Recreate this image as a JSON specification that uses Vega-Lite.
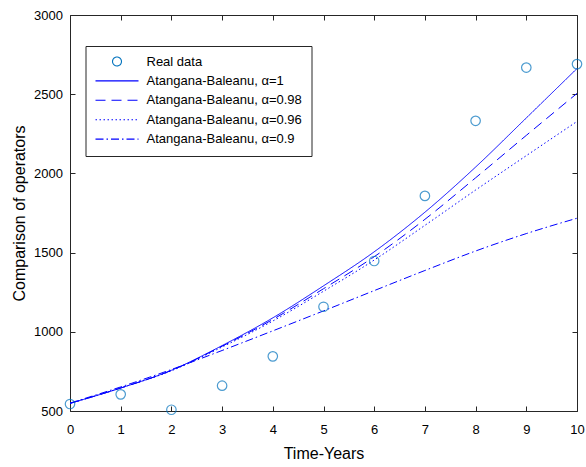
{
  "$schema": "https://vega.github.io/schema/vega-lite/v6.json",
  "autosize": {"type": "none"},
  "padding": {"left": 70, "top": 15, "right": 9, "bottom": 56},
  "width": 507,
  "height": 396,
  "background": "white",
  "config": {
    "view": {"stroke": null},
    "font": "Liberation Sans",
    "axis": {
      "grid": false,
      "domainColor": "#262626",
      "tickColor": "#262626",
      "labelColor": "#000000",
      "titleColor": "#000000",
      "labelFont": "Liberation Sans",
      "titleFont": "Liberation Sans",
      "labelFontSize": 13,
      "titleFontSize": 16,
      "titleFontWeight": "normal",
      "tickSize": -5,
      "labelFlush": false,
      "labelOverlap": false
    }
  },
  "datasets": {
    "lines": [
      {"t": 0, "v": 548, "s": "Atangana-Baleanu, α=1"},
      {"t": 1, "v": 645, "s": "Atangana-Baleanu, α=1"},
      {"t": 2, "v": 757, "s": "Atangana-Baleanu, α=1"},
      {"t": 3, "v": 913, "s": "Atangana-Baleanu, α=1"},
      {"t": 4, "v": 1088, "s": "Atangana-Baleanu, α=1"},
      {"t": 5, "v": 1290, "s": "Atangana-Baleanu, α=1"},
      {"t": 6, "v": 1505, "s": "Atangana-Baleanu, α=1"},
      {"t": 7, "v": 1755, "s": "Atangana-Baleanu, α=1"},
      {"t": 8, "v": 2040, "s": "Atangana-Baleanu, α=1"},
      {"t": 9, "v": 2350, "s": "Atangana-Baleanu, α=1"},
      {"t": 10, "v": 2662, "s": "Atangana-Baleanu, α=1"},
      {"t": 0, "v": 548, "s": "Atangana-Baleanu, α=0.98"},
      {"t": 1, "v": 645, "s": "Atangana-Baleanu, α=0.98"},
      {"t": 2, "v": 756, "s": "Atangana-Baleanu, α=0.98"},
      {"t": 3, "v": 909, "s": "Atangana-Baleanu, α=0.98"},
      {"t": 4, "v": 1078, "s": "Atangana-Baleanu, α=0.98"},
      {"t": 5, "v": 1272, "s": "Atangana-Baleanu, α=0.98"},
      {"t": 6, "v": 1474, "s": "Atangana-Baleanu, α=0.98"},
      {"t": 7, "v": 1710, "s": "Atangana-Baleanu, α=0.98"},
      {"t": 8, "v": 1972, "s": "Atangana-Baleanu, α=0.98"},
      {"t": 9, "v": 2240, "s": "Atangana-Baleanu, α=0.98"},
      {"t": 10, "v": 2505, "s": "Atangana-Baleanu, α=0.98"},
      {"t": 0, "v": 548, "s": "Atangana-Baleanu, α=0.96"},
      {"t": 1, "v": 646, "s": "Atangana-Baleanu, α=0.96"},
      {"t": 2, "v": 754, "s": "Atangana-Baleanu, α=0.96"},
      {"t": 3, "v": 904, "s": "Atangana-Baleanu, α=0.96"},
      {"t": 4, "v": 1068, "s": "Atangana-Baleanu, α=0.96"},
      {"t": 5, "v": 1256, "s": "Atangana-Baleanu, α=0.96"},
      {"t": 6, "v": 1453, "s": "Atangana-Baleanu, α=0.96"},
      {"t": 7, "v": 1672, "s": "Atangana-Baleanu, α=0.96"},
      {"t": 8, "v": 1895, "s": "Atangana-Baleanu, α=0.96"},
      {"t": 9, "v": 2112, "s": "Atangana-Baleanu, α=0.96"},
      {"t": 10, "v": 2328, "s": "Atangana-Baleanu, α=0.96"},
      {"t": 0, "v": 550, "s": "Atangana-Baleanu, α=0.9"},
      {"t": 1, "v": 652, "s": "Atangana-Baleanu, α=0.9"},
      {"t": 2, "v": 762, "s": "Atangana-Baleanu, α=0.9"},
      {"t": 3, "v": 882, "s": "Atangana-Baleanu, α=0.9"},
      {"t": 4, "v": 1006, "s": "Atangana-Baleanu, α=0.9"},
      {"t": 5, "v": 1132, "s": "Atangana-Baleanu, α=0.9"},
      {"t": 6, "v": 1260, "s": "Atangana-Baleanu, α=0.9"},
      {"t": 7, "v": 1387, "s": "Atangana-Baleanu, α=0.9"},
      {"t": 8, "v": 1510, "s": "Atangana-Baleanu, α=0.9"},
      {"t": 9, "v": 1620, "s": "Atangana-Baleanu, α=0.9"},
      {"t": 10, "v": 1717, "s": "Atangana-Baleanu, α=0.9"}
    ],
    "real": [
      {"t": 0, "v": 544},
      {"t": 1, "v": 605},
      {"t": 2, "v": 508},
      {"t": 3, "v": 660},
      {"t": 4, "v": 845},
      {"t": 5, "v": 1158},
      {"t": 6, "v": 1447},
      {"t": 7, "v": 1858},
      {"t": 8, "v": 2332},
      {"t": 9, "v": 2668},
      {"t": 10, "v": 2690}
    ]
  },
  "resolve": {"axis": {"x": "independent", "y": "independent"}},
  "layer": [
    {
      "data": {"name": "lines"},
      "mark": {"type": "line", "color": "#0000FF", "strokeWidth": 1, "interpolate": "monotone", "clip": true},
      "encoding": {
        "x": {
          "field": "t", "type": "quantitative",
          "scale": {"domain": [0, 10], "nice": false, "zero": false},
          "axis": {"orient": "bottom", "values": [0,1,2,3,4,5,6,7,8,9,10], "format": "d", "title": "Time-Years", "labelPadding": 17, "titlePadding": 9}
        },
        "y": {
          "field": "v", "type": "quantitative",
          "scale": {"domain": [500, 3000], "nice": false, "zero": false},
          "axis": {"orient": "left", "values": [500,1000,1500,2000,2500,3000], "format": "d", "title": "Comparison of operators", "labelPadding": 12.5, "titlePadding": 6}
        },
        "strokeDash": {
          "field": "s", "type": "nominal",
          "scale": {
            "domain": ["Real data", "Atangana-Baleanu, α=1", "Atangana-Baleanu, α=0.98", "Atangana-Baleanu, α=0.96", "Atangana-Baleanu, α=0.9"],
            "range": [[1, 0], [1, 0], [10, 6], [1.5, 2.5], [8, 3, 1.5, 3]]
          },
          "legend": {
            "orient": "none",
            "legendX": 15.5,
            "legendY": 31,
            "title": null,
            "fillColor": "white",
            "strokeColor": "#262626",
            "padding": 9,
            "cornerRadius": 0,
            "labelFont": "Liberation Sans",
            "labelFontSize": 13,
            "labelColor": "#000000",
            "labelLimit": 300,
            "symbolSize": 100,
            "symbolStrokeWidth": 1,
            "symbolStrokeColor": "#0000FF",
            "symbolOffset": 16,
            "labelOffset": 23,
            "rowPadding": 5.4,
            "encode": {
              "symbols": {
                "update": {
                  "shape": {"signal": "datum.value === 'Real data' ? 'circle' : 'M-4.3,0H4.3'"},
                  "stroke": {"signal": "datum.value === 'Real data' ? '#0072BD' : '#0000FF'"},
                  "size": {"signal": "datum.value === 'Real data' ? 80 : 100"},
                  "fill": {"value": "transparent"},
                  "strokeWidth": {"value": 1.1}
                }
              }
            }
          }
        }
      }
    },
    {
      "data": {"name": "real"},
      "mark": {"type": "point", "shape": "circle", "filled": false, "color": "#0072BD", "size": 90, "strokeWidth": 1.2},
      "encoding": {
        "x": {
          "field": "t", "type": "quantitative",
          "axis": {"orient": "top", "values": [0,1,2,3,4,5,6,7,8,9,10], "labels": false, "title": null}
        },
        "y": {
          "field": "v", "type": "quantitative",
          "axis": {"orient": "right", "values": [500,1000,1500,2000,2500,3000], "labels": false, "title": null}
        }
      }
    }
  ]
}
